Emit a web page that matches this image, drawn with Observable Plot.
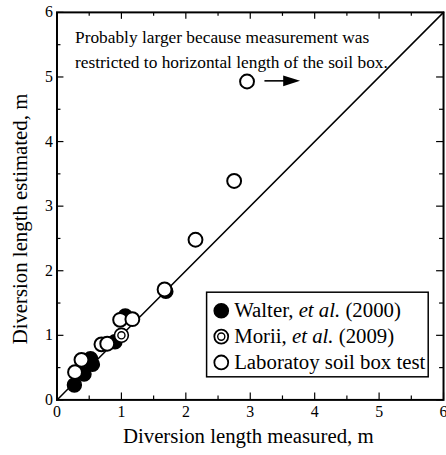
<!DOCTYPE html>
<html>
<head>
<meta charset="utf-8">
<script src="https://cdn.jsdelivr.net/npm/d3@7"></script>
<script src="https://cdn.jsdelivr.net/npm/@observablehq/plot@0.6"></script>
<style>
  html, body { margin: 0; padding: 0; background: #fff; overflow: hidden; }
  svg { display: block; }
</style>
</head>
<body>
<div id="chart"></div>
<script>
// ---- data ----
const walterX = [0.27, 0.42, 0.55, 0.52, 0.90, 1.06, 1.69];
const walterY = [0.23, 0.40, 0.55, 0.64, 0.90, 1.30, 1.68];
const moriiX = [1.00];
const moriiY = [1.00];
const labX = [0.28, 0.38, 0.69, 0.78, 0.98, 1.17, 1.67, 2.15, 2.75, 2.95];
const labY = [0.43, 0.62, 0.86, 0.87, 1.24, 1.25, 1.71, 2.48, 3.39, 4.93];

const majorTicks = [0, 1, 2, 3, 4, 5, 6];
const minorTicks = [0.5, 1.5, 2.5, 3.5, 4.5, 5.5];
const oneToOne = [0, 6];

const legendLabels = ["Walter, et al. (2000)", "Morii, et al. (2009)", "Laboratoy soil box test"];
const legendKinds = ["filled", "double", "open"];
const legendRowsY = [1.38, 0.98, 0.58];

const annotationText = "Probably larger because measurement was\nrestricted to horizontal length of the soil box.";
const arrowFrom = [3.22, 4.94];
const arrowTo = [3.65, 4.94];

const xTitle = "Diversion length measured, m";
const yTitle = "Diversion length estimated, m";

// ---- layout ----
const W = 450, H = 455;
const mL = 57, mR = 3, mT = 12, mB = 52;
const FW = W - mL - mR, FH = H - mT - mB;
const FONT = "'Liberation Serif', 'Times New Roman', serif";

const pts = (xs, ys) => xs.map((x, i) => ({x, y: ys[i]}));
const walter = pts(walterX, walterY);
const morii = pts(moriiX, moriiY);
const lab = pts(labX, labY);
const legend = legendLabels.map((label, i) => ({label, kind: legendKinds[i], y: legendRowsY[i]}));

const arrowHead = {
  draw(ctx) {
    ctx.moveTo(-9, -5.5);
    ctx.lineTo(8, 0);
    ctx.lineTo(-9, 5.5);
    ctx.closePath();
  }
};

const tickStyle = {stroke: "#000", strokeWidth: 1.2};

const chart = Plot.plot({
  width: W, height: H,
  marginLeft: mL, marginRight: mR, marginTop: mT, marginBottom: mB,
  style: {fontFamily: FONT, color: "#000", background: "#fff", overflow: "visible"},
  x: {domain: [0, 6], axis: null},
  y: {domain: [0, 6], axis: null},
  marks: [
    // 1:1 line
    Plot.line(oneToOne, {x: d => d, y: d => d, stroke: "#000", strokeWidth: 1.5}),
    // ticks (inward), bottom/top/left/right
    Plot.tickX(majorTicks, {x: d => d, insetTop: FH - 7, ...tickStyle}),
    Plot.tickX(minorTicks, {x: d => d, insetTop: FH - 4, ...tickStyle}),
    Plot.tickX(majorTicks, {x: d => d, insetBottom: FH - 7, ...tickStyle}),
    Plot.tickX(minorTicks, {x: d => d, insetBottom: FH - 4, ...tickStyle}),
    Plot.tickY(majorTicks, {y: d => d, insetRight: FW - 7, ...tickStyle}),
    Plot.tickY(minorTicks, {y: d => d, insetRight: FW - 4, ...tickStyle}),
    Plot.tickY(majorTicks, {y: d => d, insetLeft: FW - 7, ...tickStyle}),
    Plot.tickY(minorTicks, {y: d => d, insetLeft: FW - 4, ...tickStyle}),
    // tick labels
    Plot.axisX(majorTicks, {tickSize: 0, tickPadding: 6, fontSize: 16, fontFamily: FONT, tickFormat: d3.format("d"), label: null}),
    Plot.axisY(majorTicks, {tickSize: 0, tickPadding: 4, fontSize: 16, fontFamily: FONT, tickFormat: d3.format("d"), label: null}),
    // data
    Plot.dot(walter, {x: "x", y: "y", r: 7, fill: "#000", stroke: "#000", strokeWidth: 1.5}),
    Plot.dot(morii, {x: "x", y: "y", r: 7, fill: "#fff", stroke: "#000", strokeWidth: 1.6}),
    Plot.dot(morii, {x: "x", y: "y", r: 3.6, fill: "none", stroke: "#000", strokeWidth: 1.4}),
    Plot.dot(lab, {x: "x", y: "y", r: 7, fill: "#fff", stroke: "#000", strokeWidth: 2}),
    // annotation
    Plot.text([annotationText], {x: 0.28, y: 5.46, text: d => d, textAnchor: "start", lineAnchor: "middle", lineHeight: 1.45, fontSize: 17.5, fontFamily: FONT}),
    Plot.link([0], {x1: arrowFrom[0], y1: arrowFrom[1], x2: arrowTo[0], y2: arrowTo[1], stroke: "#000", strokeWidth: 1.6}),
    Plot.dot([0], {x: arrowTo[0], y: arrowTo[1], symbol: arrowHead, fill: "#000", stroke: "none"}),
    // legend
    Plot.rect([0], {x1: 2.33, x2: 5.77, y1: 0.35, y2: 1.66, fill: "#fff", stroke: "#000", strokeWidth: 1.5}),
    Plot.dot(legend, {x: 2.55, y: "y", r: 7, fill: d => d.kind === "filled" ? "#000" : "#fff", stroke: "#000", strokeWidth: 1.8}),
    Plot.dot(legend.filter(d => d.kind === "double"), {x: 2.55, y: "y", r: 3.6, fill: "none", stroke: "#000", strokeWidth: 1.4}),
    Plot.text(legend, {x: 2.75, y: "y", text: "label", textAnchor: "start", fontSize: 21, fontFamily: FONT}),
    // axis titles
    Plot.text([xTitle], {frameAnchor: "bottom", text: d => d, dy: 43, dx: -2, textAnchor: "middle", fontSize: 21, fontFamily: FONT}),
    Plot.text([yTitle], {frameAnchor: "left", text: d => d, dx: -37, dy: 13, rotate: -90, textAnchor: "middle", fontSize: 21, fontFamily: FONT}),
    // frame
    Plot.frame({stroke: "#000", strokeWidth: 2})
  ]
});

// italicize "et al." in legend labels
d3.select(chart).selectAll("text").each(function() {
  const t = d3.select(this);
  const s = this.textContent;
  const m = s.match(/^(.*?)(et al\.)(.*)$/);
  if (m && this.childElementCount === 0) {
    t.text(null);
    t.append("tspan").text(m[1]);
    t.append("tspan").attr("font-style", "italic").text(m[2]);
    t.append("tspan").text(m[3]);
  }
});
document.getElementById("chart").appendChild(chart);
</script>
</body>
</html>
